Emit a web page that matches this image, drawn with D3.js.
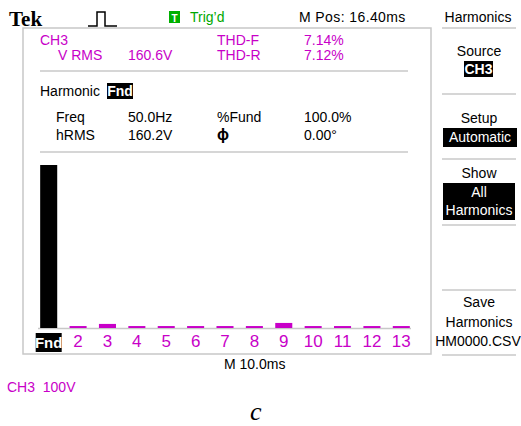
<!DOCTYPE html>
<html>
<head>
<meta charset="utf-8">
<script src="https://cdn.jsdelivr.net/npm/d3@7"></script>
<style>
  html, body { margin: 0; padding: 0; background: #fff; }
  svg { display: block; }
  text { font-family: "Liberation Sans", Arial, sans-serif; }
</style>
</head>
<body>
<svg id="scope" width="521" height="426"></svg>
<script>
// Harmonic spectrum of CH3, amplitude as % of the fundamental
const harmonics = ["Fnd", "2", "3", "4", "5", "6", "7", "8", "9", "10", "11", "12", "13"];
const pctFund = [100, 1.2, 2.5, 1.2, 1.2, 1.2, 1.2, 1.2, 3.1, 1.2, 1.2, 1.2, 1.2];

// Readouts
const summaryLabels = ["THD-F", "THD-R"];
const summaryValues = ["7.14%", "7.12%"];
const detailLabelsL = ["Freq", "hRMS"];
const detailValuesL = ["50.0Hz", "160.2V"];
const detailLabelsR = ["%Fund", "\u03D5"];
const detailValuesR = ["100.0%", "0.00\u00B0"];

const MAG = "#c800c8";
const GRID = "#c8c8c8";
const svg = d3.select("#scope");

svg.append("rect").attr("width", 521).attr("height", 426).attr("fill", "#fff");

// ---- status bar ----
svg.append("text").attr("x", 9).attr("y", 26)
  .style("font-family", "'Liberation Serif', 'Times New Roman', serif")
  .style("font-weight", "bold").style("font-size", "21px").text("Tek");

svg.append("polyline")
  .attr("points", "88,26 97,26 97,12 105,12 105,26 117,26")
  .attr("fill", "none").attr("stroke", "#000").attr("stroke-width", 1.5);

svg.append("rect").attr("x", 169).attr("y", 11).attr("width", 11).attr("height", 12).attr("fill", "#00b000");
svg.append("text").attr("x", 174.5).attr("y", 21.5).attr("text-anchor", "middle")
  .style("font-size", "10px").style("font-weight", "bold").attr("fill", "#fff").text("T");
svg.append("text").attr("x", 190).attr("y", 22).style("font-size", "14px")
  .attr("fill", "#00a800").text("Trig\u2019d");

svg.append("text").attr("x", 299).attr("y", 22).style("font-size", "14px")
  .style("letter-spacing", "0.4px").text("M Pos: 16.40ms");

// ---- screen frame ----
svg.append("path").attr("d", "M23,28 H431 V354 H23 Z")
  .attr("fill", "none").attr("stroke", GRID).attr("stroke-width", 1.5);

// ---- measurement readouts ----
svg.append("text").attr("x", 40).attr("y", 45).style("font-size", "14px").attr("fill", MAG).text("CH3");
svg.append("text").attr("x", 58).attr("y", 60).style("font-size", "14px").attr("fill", MAG).text("V RMS");
svg.append("text").attr("x", 128).attr("y", 60).style("font-size", "14px").attr("fill", MAG).text("160.6V");
summaryLabels.forEach((t, i) => {
  svg.append("text").attr("x", 217).attr("y", 45 + i * 15).style("font-size", "14px").attr("fill", MAG).text(t);
  svg.append("text").attr("x", 304).attr("y", 45 + i * 15).style("font-size", "14px").attr("fill", MAG).text(summaryValues[i]);
});

svg.append("line").attr("x1", 40).attr("x2", 408).attr("y1", 71).attr("y2", 71)
  .attr("stroke", GRID).attr("stroke-width", 1.5);

svg.append("text").attr("x", 40).attr("y", 96).style("font-size", "14px").text("Harmonic");
svg.append("rect").attr("x", 107).attr("y", 83).attr("width", 26).attr("height", 16).attr("fill", "#000");
svg.append("text").attr("x", 120).attr("y", 96).attr("text-anchor", "middle")
  .style("font-size", "14px").style("font-weight", "bold").attr("fill", "#fff").text("Fnd");

detailLabelsL.forEach((t, i) => {
  const y = 122 + i * 18;
  svg.append("text").attr("x", 56).attr("y", y).style("font-size", "14px").text(t);
  svg.append("text").attr("x", 128).attr("y", y).style("font-size", "14px").text(detailValuesL[i]);
  svg.append("text").attr("x", 217).attr("y", y).style("font-size", i ? "16px" : "14px")
    .style("font-weight", i ? "bold" : "normal").text(detailLabelsR[i]);
  svg.append("text").attr("x", 304).attr("y", y).style("font-size", "14px").text(detailValuesR[i]);
});

svg.append("line").attr("x1", 40).attr("x2", 408).attr("y1", 152).attr("y2", 152)
  .attr("stroke", GRID).attr("stroke-width", 1.5);

// ---- spectrum bars ----
const x = d3.scaleBand().domain(harmonics).range([34, 416]).paddingInner(0.42).paddingOuter(0.21);
const y = d3.scaleLinear().domain([0, 100]).range([328, 165]);

svg.append("line").attr("x1", 38).attr("x2", 411).attr("y1", y(0) + 0.5).attr("y2", y(0) + 0.5)
  .attr("stroke", GRID).attr("stroke-width", 1.5);

svg.append("g").selectAll("rect").data(harmonics).join("rect")
  .attr("x", d => x(d))
  .attr("width", x.bandwidth())
  .attr("y", (d, i) => y(pctFund[i]))
  .attr("height", (d, i) => y(0) - y(pctFund[i]))
  .attr("fill", (d, i) => i === 0 ? "#000" : MAG);

const axis = svg.append("g").attr("transform", `translate(0,${y(0)})`)
  .call(d3.axisBottom(x).tickSize(0).tickPadding(7));
axis.select(".domain").remove();
axis.selectAll(".tick text")
  .style("font-family", "'Liberation Sans', Arial, sans-serif")
  .style("font-size", "17px")
  .attr("fill", d => d === "Fnd" ? "#fff" : MAG)
  .style("font-weight", d => d === "Fnd" ? "bold" : "normal");
axis.selectAll(".tick").filter(d => d === "Fnd")
  .insert("rect", "text")
  .attr("x", -13).attr("y", 5).attr("width", 26).attr("height", 19).attr("fill", "#000");
axis.selectAll(".tick").filter(d => d === "Fnd").select("text")
  .style("font-size", "15px").attr("dy", "0.85em");

svg.append("text").attr("x", 224).attr("y", 369).style("font-size", "14px").text("M 10.0ms");
svg.append("text").attr("x", 7).attr("y", 392).style("font-size", "14px").attr("fill", MAG)
  .style("white-space", "pre").text("CH3  100V");

svg.append("text").attr("x", 250).attr("y", 420)
  .style("font-family", "'Liberation Serif', 'Times New Roman', serif")
  .style("font-style", "italic").style("font-size", "26px").text("c");

// ---- side menu ----
const MX = 479;
svg.append("text").attr("x", 478).attr("y", 22).attr("text-anchor", "middle").style("font-size", "14px").text("Harmonics");
[28, 94, 159, 225, 290, 355].forEach(ly => {
  svg.append("line").attr("x1", 442).attr("x2", 516).attr("y1", ly).attr("y2", ly)
    .attr("stroke", GRID).attr("stroke-width", 1.5);
});

svg.append("text").attr("x", MX).attr("y", 56).attr("text-anchor", "middle").style("font-size", "14px").text("Source");
svg.append("rect").attr("x", 464).attr("y", 61).attr("width", 29).attr("height", 16).attr("fill", "#000");
svg.append("text").attr("x", 478.5).attr("y", 74).attr("text-anchor", "middle").style("font-size", "14px")
  .style("font-weight", "bold").attr("fill", "#fff").text("CH3");

svg.append("text").attr("x", MX).attr("y", 123).attr("text-anchor", "middle").style("font-size", "14px").text("Setup");
svg.append("rect").attr("x", 443).attr("y", 128).attr("width", 74).attr("height", 19).attr("fill", "#000");
svg.append("text").attr("x", 480).attr("y", 142).attr("text-anchor", "middle").style("font-size", "14px")
  .attr("fill", "#fff").text("Automatic");

svg.append("text").attr("x", MX).attr("y", 178).attr("text-anchor", "middle").style("font-size", "14px").text("Show");
svg.append("rect").attr("x", 443).attr("y", 183).attr("width", 72).attr("height", 37).attr("fill", "#000");
svg.append("text").attr("x", MX).attr("y", 197).attr("text-anchor", "middle").style("font-size", "14px")
  .attr("fill", "#fff").text("All");
svg.append("text").attr("x", MX).attr("y", 215).attr("text-anchor", "middle").style("font-size", "14px")
  .attr("fill", "#fff").text("Harmonics");

svg.append("text").attr("x", MX).attr("y", 307).attr("text-anchor", "middle").style("font-size", "14px").text("Save");
svg.append("text").attr("x", MX).attr("y", 327).attr("text-anchor", "middle").style("font-size", "14px").text("Harmonics");
svg.append("text").attr("x", 478).attr("y", 346).attr("text-anchor", "middle").style("font-size", "14px").text("HM0000.CSV");
</script>
</body>
</html>
